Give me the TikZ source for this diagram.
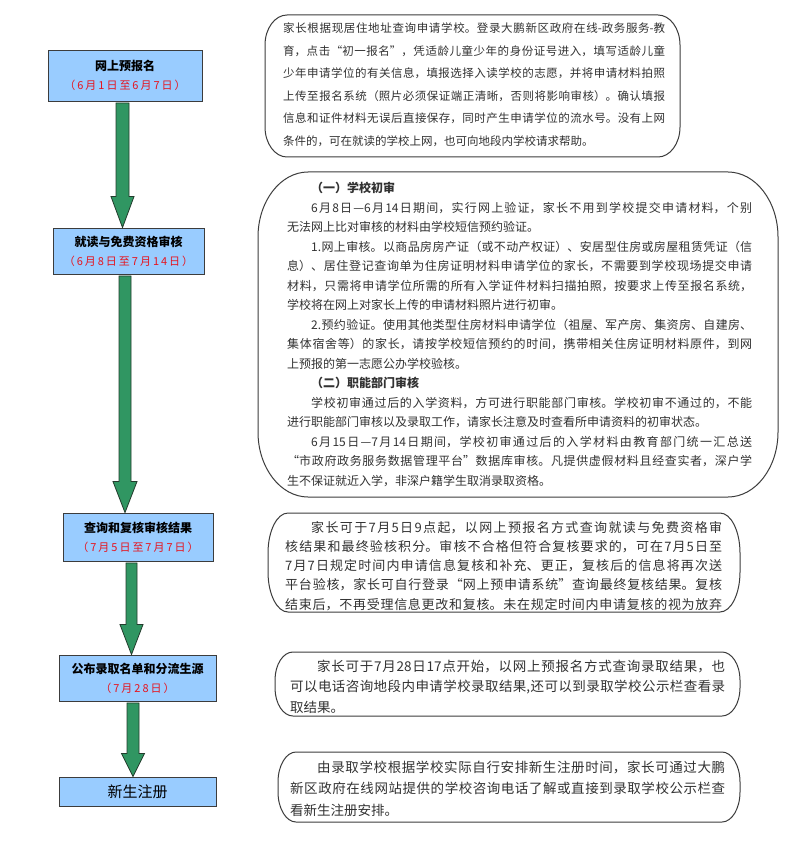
\documentclass[tikz,border=0pt]{standalone}
\usepackage{fontspec}
\setmainfont{Noto Sans CJK SC}
\usetikzlibrary{calc}
\XeTeXlinebreaklocale "zh"
\XeTeXlinebreakskip=0pt plus 4pt
\definecolor{boxblue}{RGB}{153,204,255}
\definecolor{datered}{RGB}{230,20,30}
\definecolor{arrowgreen}{RGB}{48,150,98}
\definecolor{arrowedge}{RGB}{35,60,45}
\definecolor{linegray}{RGB}{60,60,60}
\definecolor{textgray}{RGB}{50,50,50}
\tikzset{
  leftbox/.style={draw=linegray, line width=0.9pt, fill=boxblue, inner sep=0pt, align=center, font=\fontsize{12}{19}\selectfont},
  arrowstyle/.style={fill=arrowgreen, draw=arrowedge, line width=0.8pt, line join=miter},
  scrollline/.style={draw=linegray, line width=1pt},
  rtext/.style={anchor=base west, inner sep=0pt, align=justify, text=textgray},
}
\newcommand{\boxtitle}[1]{{\bfseries #1}}
\newcommand{\boxdate}[1]{{\color{datered}\fontsize{11}{19}\selectfont\addfontfeatures{LetterSpace=18}#1}}
\newcommand{\scrollbox}[6]{%
  \draw[scrollline] (#1+#5,#2) -- (#3-#5,#2)
   .. controls (#3-0.45*#5,#2) and (#3,#2+0.45*#6) .. (#3,#2+#6)
   -- (#3,#4-#6)
   .. controls (#3,#4-0.45*#6) and (#3-0.45*#5,#4) .. (#3-#5,#4)
   -- (#1+#5,#4)
   .. controls (#1+0.45*#5,#4) and (#1,#4-0.45*#6) .. (#1,#4-#6)
   -- (#1,#2+#6)
   .. controls (#1,#2+0.45*#6) and (#1+0.45*#5,#2) .. (#1+#5,#2) -- cycle;}
\newcommand{\blockarrow}[6]{%
  \coordinate (s) at ($(#1.south)+(#3,1.5)$);
  \coordinate (t) at (s |- #2.north);
  \draw[arrowstyle] ($(s)+(-#4,0)$) -- ($(s)+(#4,0)$) -- ($(t)+(#4,-#6)$)
    -- ($(t)+(#5,-#6)$) -- (t) -- ($(t)+(-#5,-#6)$) -- ($(t)+(-#4,-#6)$) -- cycle;}
\begin{document}
\begin{tikzpicture}[x=1pt,y=-1pt]
\useasboundingbox (0,0) rectangle (800,842);
\fill[white] (0,0) rectangle (800,842);

% left step boxes
\node[leftbox, minimum width=154pt, minimum height=51pt] (b1) at (125,75.5)
  {\boxtitle{网上预报名}\\\boxdate{（6月1日至6月7日）}};
\node[leftbox, minimum width=151pt, minimum height=46pt] (b2) at (128.5,251)
  {\boxtitle{就读与免费资格审核}\\\boxdate{（6月8日至7月14日）}};
\node[leftbox, minimum width=150pt, minimum height=48pt] (b3) at (138,537)
  {\boxtitle{查询和复核审核结果}\\\boxdate{（7月5日至7月7日）}};
\node[leftbox, minimum width=157pt, minimum height=46pt] (b4) at (137.5,678)
  {\boxtitle{公布录取名单和分流生源}\\\boxdate{（7月28日）}};
\node[leftbox, minimum width=157pt, minimum height=29pt, font=\fontsize{15}{18}\selectfont] (b5) at (137.5,791.5)
  {新生注册};

% block arrows
\blockarrow{b1}{b2}{-2.5}{6.5}{11.5}{31}
\blockarrow{b2}{b3}{-3.5}{6}{12}{31}
\blockarrow{b3}{b4}{-6.5}{5.5}{11.5}{30}
\blockarrow{b4}{b5}{-4.5}{6}{11.5}{23}

% right text frames
\scrollbox{265}{15}{680}{157}{22}{30}
\scrollbox{258}{172}{778}{497}{50}{65}
\scrollbox{268}{513}{740}{612}{20}{40}
\scrollbox{275}{652}{740}{716}{18}{28}
\scrollbox{278}{752}{740}{822}{18}{30}

% right texts
\node[rtext, text width=382pt, font=\fontsize{11.5}{22.6}\selectfont] (t1) at (283,32.5) {%
家长根据现居住地址查询申请学校。登录大鹏新区政府在线-政务服务-教\linebreak
育，点击“初一报名”，凭适龄儿童少年的身份证号进入，填写适龄儿童\linebreak
少年申请学位的有关信息，填报选择入读学校的志愿，并将申请材料拍照\linebreak
上传至报名系统（照片必须保证端正清晰，否则将影响审核）。确认填报\linebreak
信息和证件材料无误后直接保存，同时产生申请学位的流水号。没有上网\linebreak
条件的，可在就读的学校上网，也可向地段内学校请求帮助。};

\node[rtext, text width=465pt, font=\fontsize{12}{19.5}\selectfont] (t2) at (287,192.6) {%
\hspace*{2em}{\bfseries （一）学校初审}\\
\hspace*{2em}6月8日—6月14日期间，实行网上验证，家长不用到学校提交申请材料，个别\linebreak
无法网上比对审核的材料由学校短信预约验证。\\
\hspace*{2em}1.网上审核。以商品房房产证（或不动产权证）、安居型住房或房屋租赁凭证（信\linebreak
息）、居住登记查询单为住房证明材料申请学位的家长，不需要到学校现场提交申请\linebreak
材料，只需将申请学位所需的所有入学证件材料扫描拍照，按要求上传至报名系统，\linebreak
学校将在网上对家长上传的申请材料照片进行初审。\\
\hspace*{2em}2.预约验证。使用其他类型住房材料申请学位（祖屋、军产房、集资房、自建房、\linebreak
集体宿舍等）的家长，请按学校短信预约的时间，携带相关住房证明材料原件，到网\linebreak
上预报的第一志愿公办学校验核。\\
\hspace*{2em}{\bfseries （二）职能部门审核}\\
\hspace*{2em}学校初审通过后的入学资料，方可进行职能部门审核。学校初审不通过的，不能\linebreak
进行职能部门审核以及录取工作，请家长注意及时查看所申请资料的初审状态。\\
\hspace*{2em}6月15日—7月14日期间，学校初审通过后的入学材料由教育部门统一汇总送\linebreak
“市政府政务服务数据管理平台”数据库审核。凡提供虚假材料且经查实者，深户学\linebreak
生不保证就近入学，非深户籍学生取消录取资格。};

\node[rtext, text width=437pt, font=\fontsize{13}{19.3}\selectfont] (t3) at (285,532) {%
\hspace*{2em}家长可于7月5日9点起，以网上预报名方式查询就读与免费资格审\linebreak
核结果和最终验核积分。审核不合格但符合复核要求的，可在7月5日至\linebreak
7月7日规定时间内申请信息复核和补充、更正，复核后的信息将再次送\linebreak
平台验核，家长可自行登录“网上预申请系统”查询最终复核结果。复核\linebreak
结束后，不再受理信息更改和复核。未在规定时间内申请复核的视为放弃\linebreak};

\node[rtext, text width=435pt, font=\fontsize{13.5}{20.5}\selectfont] (t4) at (290,671) {%
\hspace*{2em}家长可于7月28日17点开始，以网上预报名方式查询录取结果，也\linebreak
可以电话咨询地段内申请学校录取结果,还可以到录取学校公示栏查看录\linebreak
取结果。};

\node[rtext, text width=435pt, font=\fontsize{13.5}{21.5}\selectfont] (t5) at (290,772) {%
\hspace*{2em}由录取学校根据学校实际自行安排新生注册时间，家长可通过大鹏\linebreak
新区政府在线网站提供的学校咨询电话了解或直接到录取学校公示栏查\linebreak
看新生注册安排。};
\end{tikzpicture}
\end{document}
